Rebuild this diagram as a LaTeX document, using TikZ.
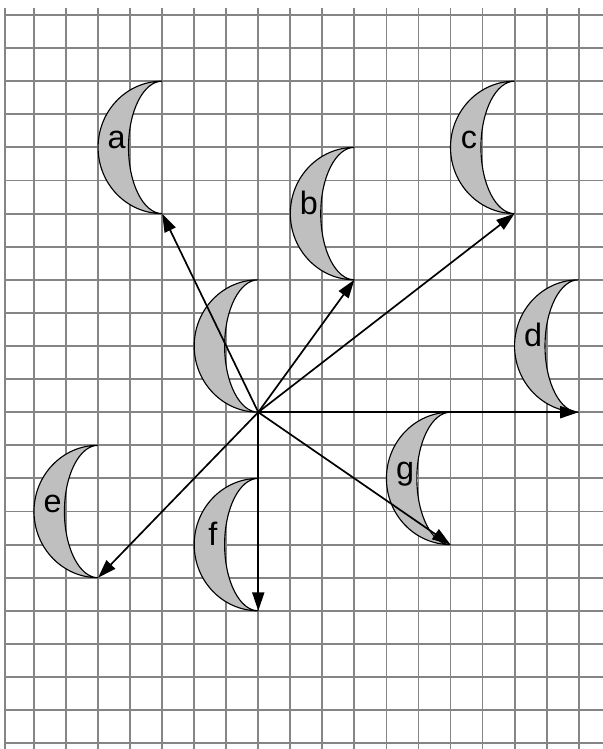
\documentclass[tikz,border=0pt]{standalone}
\usepackage{fontspec}
\setmainfont{Liberation Sans}
\usetikzlibrary{arrows.meta}

\begin{document}
\begin{tikzpicture}[
  x=0.8cm, y=0.8265cm,
  gridline/.style={draw=black!48, line width=1.3pt},
  moonline/.style={draw=black, fill=black!25, line width=0.8pt},
  moonlabel/.style={anchor=base, inner sep=0pt, font=\fontsize{23}{27}\selectfont},
  vec/.style={draw, line width=1.2pt, -{Triangle[length=4.6mm,width=3mm]}},
  pics/moon/.style={code={
    \draw[moonline] (0,0) coordinate (-top)
      arc[start angle=90, end angle=270, x radius=2, y radius=2] coordinate (-bot)
      arc[start angle=270, end angle=90, x radius=1.05, y radius=2] -- cycle;
    \node[moonlabel] (-lbl) at (-1.42,-2.03) {#1};
  }}
]
\useasboundingbox (-1.061,0.453) rectangle (17.759,-22.175);
% grid
\draw[gridline] (-0.905,0.211) -- (-0.905,-22.175);
\foreach \i in {0,...,17}
  \draw[gridline] (\i,0.211) -- (\i,-22.175);
\foreach \j in {0,...,22}
  \draw[gridline] (-0.905,-\j) -- (17.759,-\j);
% crescents
\pic (a)   at (4,-2)   {moon=a};
\pic (b)   at (10,-4)  {moon=b};
\pic (c)   at (15,-2)  {moon=c};
\pic (mid) at (7,-8)   {moon={}};
\pic (d)   at (17,-8)  {moon=d};
\pic (g)   at (13,-12) {moon=g};
\pic (e)   at (2,-13)  {moon=e};
\pic (f)   at (7,-14)  {moon=f};
% arrows
\foreach \t in {a,b,c,d,g,e,f}
  \draw[vec] (mid-bot) -- (\t-bot);
\end{tikzpicture}
\end{document}
